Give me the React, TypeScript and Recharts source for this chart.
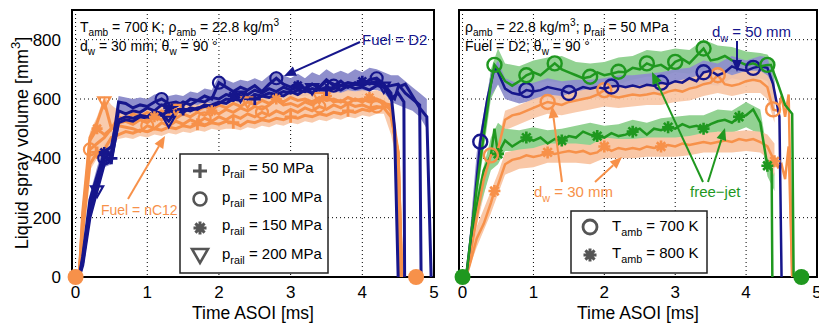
import React from 'react';
import { ComposedChart, Line, Area, XAxis, YAxis, CartesianGrid, ReferenceArea, Scatter } from 'recharts';

const FONT = '"Liberation Sans", Arial, Helvetica, sans-serif';
const NAVY = '#16168c';
const NAVY_BAND = '#8f8fcc';
const ORANGE = '#f7914a';
const ORANGE_BAND = '#f9c7a6';
const GREEN = '#1f981f';
const GREEN_BAND = '#92d292';
const GRAY = '#555555';

// ---------- axis ticks ----------
const xTicks = [0, 1, 2, 3, 4, 5];
const yTicks = [0, 200, 400, 600, 800];

// ---------- LEFT PANEL (fuel comparison) ----------
const tL = [0.05, 0.1, 0.2, 0.3, 0.4, 0.5, 0.6, 0.7, 0.8, 0.9, 1, 1.1, 1.2, 1.3, 1.4, 1.5, 1.6, 1.7, 1.8, 1.9, 2, 2.1, 2.2, 2.3, 2.4, 2.5, 2.6, 2.7, 2.8, 2.9, 3, 3.1, 3.2, 3.3, 3.4, 3.5, 3.6, 3.7, 3.8, 3.9, 4, 4.1, 4.2, 4.3];

// D2 (navy)
const d2p100 = [0, 60, 240, 330, 400, 420, 590, 585, 570, 580, 575, 590, 600, 585, 590, 580, 600, 595, 610, 600, 655, 640, 625, 640, 630, 645, 625, 650, 670, 650, 640, 655, 635, 650, 640, 665, 645, 660, 640, 655, 645, 665, 670, 650];
const d2p100TailT = [4.4, 4.45, 4.5];
const d2p100TailV = [620, 500, 0];
const d2p50 = [0, 50, 220, 310, 390, 400, 520, 530, 525, 540, 535, 550, 545, 560, 555, 565, 560, 570, 575, 580, 590, 585, 600, 595, 605, 600, 610, 605, 615, 610, 625, 615, 630, 620, 635, 630, 640, 630, 645, 635, 640, 630, 645, 640];
const d2p50TailT = [4.4, 4.5, 4.6, 4.7, 4.8, 4.82];
const d2p50TailV = [645, 650, 620, 600, 580, 0];
const d2p150 = [0, 70, 260, 340, 420, 440, 560, 550, 560, 555, 570, 560, 580, 570, 575, 590, 580, 595, 590, 605, 600, 615, 610, 620, 615, 630, 620, 635, 625, 640, 630, 645, 635, 650, 640, 660, 650, 645, 655, 650, 660, 650, 660, 640];
const d2p150TailT = [4.4, 4.5, 4.58, 4.59];
const d2p150TailV = [600, 620, 590, 0];
const d2p200 = [0, 40, 200, 290, 380, 390, 530, 540, 535, 545, 540, 560, 550, 525, 560, 555, 570, 565, 580, 575, 585, 600, 595, 610, 600, 615, 610, 620, 615, 625, 620, 630, 625, 635, 630, 640, 635, 645, 640, 650, 645, 655, 650, 640];
const d2p200TailT = [4.4, 4.45, 4.5, 4.6, 4.7, 4.8, 4.9, 4.96];
const d2p200TailV = [610, 600, 640, 650, 610, 570, 540, 0];

// nC12 (orange)
const c12p50 = [0, 150, 380, 420, 430, 470, 480, 490, 485, 495, 490, 500, 495, 505, 500, 510, 505, 515, 510, 520, 515, 525, 520, 510, 525, 520, 530, 525, 535, 530, 540, 535, 545, 540, 550, 545, 555, 550, 560, 555, 565, 560, 570, 575];
const c12p50TailT = [4.4, 4.5, 4.52];
const c12p50TailV = [570, 380, 0];
const c12p100 = [0, 200, 430, 450, 470, 500, 510, 505, 500, 490, 510, 500, 520, 510, 525, 515, 530, 520, 535, 525, 540, 530, 545, 535, 550, 540, 555, 545, 560, 550, 565, 555, 570, 560, 575, 565, 580, 570, 585, 575, 580, 570, 575, 570];
const c12p100TailT = [4.4, 4.5, 4.55];
const c12p100TailV = [540, 420, 0];
const c12p150 = [0, 180, 460, 500, 480, 500, 520, 525, 515, 530, 520, 540, 530, 545, 535, 550, 540, 555, 545, 560, 550, 565, 555, 570, 560, 575, 565, 580, 600, 580, 585, 575, 590, 580, 595, 610, 590, 595, 585, 600, 590, 605, 600, 590];
const c12p150TailT = [4.4, 4.5, 4.55];
const c12p150TailV = [560, 400, 0];
const c12p200 = [0, 220, 470, 520, 590, 500, 540, 530, 550, 540, 555, 545, 560, 550, 565, 555, 570, 560, 575, 565, 580, 570, 585, 575, 590, 580, 595, 585, 600, 590, 605, 595, 600, 590, 605, 595, 600, 590, 605, 595, 600, 590, 595, 585];
const c12p200TailT = [4.4, 4.5, 4.55];
const c12p200TailV = [580, 420, 0];

// bands
const d2BandTailT = [4.4, 4.5, 4.6, 4.7, 4.8, 4.9];
const d2BandLo = [0, 30, 190, 280, 370, 380, 510, 520, 515, 525, 525, 535, 530, 510, 540, 540, 550, 550, 560, 560, 570, 575, 580, 585, 585, 595, 595, 600, 600, 605, 605, 610, 610, 615, 615, 620, 620, 620, 625, 625, 625, 630, 630, 620, 590, 580, 570, 560, 540, 500];
const d2BandHi = [0, 90, 280, 370, 450, 470, 610, 605, 600, 605, 600, 615, 620, 610, 615, 610, 625, 620, 635, 630, 680, 665, 655, 665, 660, 670, 660, 680, 695, 680, 670, 685, 670, 690, 680, 700, 685, 695, 685, 700, 690, 705, 700, 690, 680, 680, 660, 640, 620, 600];
const c12BandTailT = [4.4, 4.5];
const c12BandLo = [0, 140, 360, 400, 410, 450, 465, 470, 465, 475, 470, 480, 475, 485, 480, 490, 485, 495, 490, 500, 495, 500, 500, 495, 505, 500, 510, 505, 515, 510, 520, 515, 525, 520, 530, 525, 535, 530, 540, 535, 545, 540, 550, 550, 480, 370];
const c12BandHi = [0, 240, 490, 540, 610, 580, 560, 555, 565, 560, 570, 560, 575, 570, 580, 575, 585, 580, 590, 585, 595, 590, 600, 595, 605, 600, 610, 605, 620, 610, 620, 615, 625, 615, 630, 625, 630, 620, 630, 625, 630, 625, 630, 620, 590, 440];

// marker positions (ms)
const d2p50Marks = [0.5, 1.5, 2.5, 3.5];
const d2p100Marks = [0.4, 1.2, 2, 2.8, 3.6, 4.2];
const d2p150Marks = [0.4, 1.3, 2.2, 3.1, 4];
const d2p200Marks = [0.3, 1.3, 2.3, 3.3, 4.3];
const c12p50Marks = [0.3, 1.7, 2.2, 3, 3.8];
const c12p100Marks = [0.2, 1, 1.8, 2.6, 3.4, 4.2];
const c12p150Marks = [0.3, 1.1, 1.9, 2.8, 3.5, 4.1];
const c12p200Marks = [0.4, 1.4, 2.4, 3.4];
const leftEndsT = [0, 4.75];
const leftEndsV = [0, 0];

// ---------- RIGHT PANEL (wall distance / temperature) ----------
const tR = [0.05, 0.1, 0.2, 0.3, 0.4, 0.45, 0.5, 0.6, 0.7, 0.8, 0.9, 1, 1.1, 1.2, 1.3, 1.4, 1.5, 1.6, 1.7, 1.8, 1.9, 2, 2.1, 2.2, 2.3, 2.4, 2.5, 2.6, 2.7, 2.8, 2.9, 3, 3.1, 3.2, 3.3, 3.4, 3.5, 3.6, 3.7, 3.8, 3.9, 4, 4.1, 4.2, 4.3];
const tRBlue = [0.05, 0.15, 0.25, 0.35, 0.45, 0.5, 0.6, 0.7, 0.8, 0.9, 1, 1.1, 1.2, 1.3, 1.4, 1.5, 1.6, 1.7, 1.8, 1.9, 2, 2.1, 2.2, 2.3, 2.4, 2.5, 2.6, 2.7, 2.8, 2.9, 3, 3.1, 3.2, 3.3, 3.4, 3.5, 3.6, 3.7, 3.8, 3.9, 4, 4.1, 4.2, 4.3];

const freeJet700 = [0, 100, 300, 480, 650, 715, 700, 660, 645, 660, 680, 690, 680, 700, 720, 700, 690, 680, 670, 675, 690, 680, 685, 692, 690, 705, 700, 720, 710, 715, 700, 725, 735, 720, 745, 770, 730, 735, 745, 730, 725, 715, 720, 710, 715];
const freeJet700TailT = [4.35, 4.45, 4.55, 4.65, 4.67];
const freeJet700TailV = [715, 650, 580, 550, 0];
const dw50T700 = [0, 200, 456, 600, 705, 690, 635, 620, 615, 630, 625, 630, 640, 635, 630, 620, 630, 640, 635, 640, 635, 642, 645, 640, 645, 640, 648, 645, 655, 650, 660, 655, 670, 660, 690, 695, 680, 690, 710, 700, 695, 705, 710, 705];
const dw50T700TailT = [4.38, 4.47, 4.5];
const dw50T700TailV = [650, 540, 0];
const dw30T700 = [0, 60, 200, 330, 410, 415, 430, 530, 545, 550, 560, 570, 580, 590, 585, 580, 590, 595, 600, 605, 615, 630, 610, 605, 610, 615, 612, 615, 620, 615, 625, 630, 625, 635, 640, 650, 655, 680, 650, 645, 650, 660, 665, 660, 640];
const dw30T700TailT = [4.38, 4.45, 4.5, 4.55, 4.6, 4.65];
const dw30T700TailV = [565, 560, 610, 540, 615, 0];
const freeJet800 = [0, 80, 240, 360, 410, 500, 415, 460, 440, 455, 470, 460, 470, 450, 465, 460, 475, 470, 490, 480, 475, 470, 485, 475, 480, 490, 500, 480, 500, 495, 505, 500, 515, 505, 510, 500, 515, 525, 530, 520, 540, 545, 565, 520, 375];
const freeJet800TailT = [4.36, 4.37];
const freeJet800TailV = [365, 0];
const dw30T800 = [0, 40, 130, 180, 250, 290, 310, 380, 395, 400, 410, 405, 410, 420, 415, 420, 425, 420, 425, 415, 420, 440, 425, 435, 430, 435, 430, 440, 435, 440, 445, 440, 450, 445, 450, 455, 450, 455, 460, 455, 465, 460, 465, 455, 440];
const dw30T800TailT = [4.4, 4.45, 4.5, 4.55, 4.6, 4.65];
const dw30T800TailV = [390, 370, 380, 330, 440, 0];

const tBR = [0.05, 0.2, 0.4, 0.5, 0.6, 0.8, 1, 1.2, 1.4, 1.6, 1.8, 2, 2.2, 2.4, 2.6, 2.8, 3, 3.2, 3.4, 3.6, 3.8, 4, 4.2, 4.3, 4.4];
const freeJet700Lo = [0, 260, 600, 650, 620, 625, 650, 660, 655, 640, 635, 645, 650, 665, 675, 675, 690, 685, 700, 700, 690, 680, 670, 660, 600];
const freeJet700Hi = [0, 340, 700, 770, 720, 710, 730, 740, 745, 725, 720, 725, 740, 745, 765, 760, 770, 765, 800, 780, 775, 760, 755, 750, 720];
const dw50T700Lo = [0, 340, 610, 650, 600, 585, 595, 605, 600, 600, 605, 600, 610, 615, 615, 620, 625, 630, 650, 645, 670, 660, 670, 660, 540];
const dw50T700Hi = [0, 420, 690, 730, 670, 650, 655, 670, 660, 665, 665, 670, 680, 680, 685, 690, 700, 705, 730, 720, 745, 730, 745, 740, 660];
const dw30T700Lo = [0, 170, 380, 400, 495, 515, 535, 550, 545, 555, 565, 575, 570, 575, 580, 580, 590, 595, 610, 620, 610, 620, 620, 600, 520];
const dw30T700Hi = [0, 230, 440, 460, 560, 580, 600, 615, 610, 625, 635, 650, 640, 645, 650, 650, 660, 670, 685, 700, 680, 695, 695, 680, 640];
const freeJet800Lo = [0, 200, 360, 380, 425, 425, 430, 425, 430, 440, 445, 440, 445, 455, 450, 460, 465, 470, 470, 490, 485, 505, 480, 340, 290];
const freeJet800Hi = [0, 280, 470, 520, 500, 495, 505, 495, 500, 510, 520, 510, 515, 530, 520, 535, 540, 545, 545, 565, 560, 590, 565, 420, 350];
const dw30T800Lo = [0, 100, 215, 280, 345, 365, 370, 385, 385, 385, 380, 400, 400, 400, 405, 405, 405, 410, 420, 420, 420, 425, 420, 400, 340];
const dw30T800Hi = [0, 170, 290, 350, 420, 430, 435, 450, 450, 450, 445, 470, 465, 465, 470, 470, 470, 475, 485, 490, 490, 495, 490, 480, 450];

const freeJet700Marks = [0.45, 0.9, 1.3, 1.8, 2.2, 2.6, 3, 3.4, 4.3];
const dw50T700Marks = [0.25, 0.9, 1.5, 2.1, 2.8, 3.4, 4.1];
const dw30T700Marks = [0.4, 1.2, 2, 3.6, 4.38];
const freeJet800Marks = [0.5, 0.9, 1.4, 1.9, 2.4, 2.9, 3.4, 3.9, 4.3];
const dw30T800Marks = [0.45, 1.2, 2, 2.8, 4.4];
const rightEndsT = [0, 4.78];
const rightEndsV = [0, 0];

// ---------- helpers ----------
const pts = (ts: number[], vs: number[], tt: number[] = [], tv: number[] = []) =>
  ts.concat(tt).map((t, i) => ({ t, v: vs.concat(tv)[i] }));
const rng = (ts: number[], lo: number[], hi: number[]) =>
  ts.map((t, i) => ({ t, r: [lo[i], hi[i]] }));

function markerShape(kind: string, cx: number, cy: number, s: number, color: string, sw: number) {
  if (kind === 'o') return <circle cx={cx} cy={cy} r={s} fill="none" stroke={color} strokeWidth={sw} />;
  if (kind === '+') return <path d={`M${cx - s},${cy}H${cx + s}M${cx},${cy - s}V${cy + s}`} stroke={color} strokeWidth={sw + 0.6} fill="none" />;
  if (kind === '*') {
    const d = s * 0.707;
    return (
      <path
        d={`M${cx - s},${cy}H${cx + s}M${cx},${cy - s}V${cy + s}M${cx - d},${cy - d}L${cx + d},${cy + d}M${cx - d},${cy + d}L${cx + d},${cy - d}`}
        stroke={color} strokeWidth={sw + 0.4} fill="none" />
    );
  }
  return <polygon points={`${cx - s},${cy - s * 0.75} ${cx + s},${cy - s * 0.75} ${cx},${cy + s}`} fill="none" stroke={color} strokeWidth={sw} />;
}

function makeDot(kind: string, color: string, marks: number[], s: number, sw: number) {
  return (props: any) => {
    const { cx, cy, payload, index } = props;
    if (cx == null || cy == null || !payload || marks.indexOf(payload.t) < 0) return <g key={`d${index}`} />;
    return <g key={`d${index}`}>{markerShape(kind, cx, cy, s, color, sw)}</g>;
  };
}

const tickStyle = { fontSize: 17, fill: '#000', fontFamily: FONT };

function Rich({ x, y, size, color, parts, anchor = 'start' }: any) {
  let shift = 0;
  const spans = parts.map((p: any, i: number) => {
    const [txt, kind] = p;
    const target = kind === 'sub' ? size * 0.32 : kind === 'sup' ? -size * 0.42 : 0;
    const dy = target - shift;
    shift = target;
    const fs = kind === 'n' ? size : size * 0.72;
    return <tspan key={i} dy={dy} fontSize={fs}>{txt}</tspan>;
  });
  return <text x={x} y={y} fill={color} fontSize={size} fontFamily={FONT} textAnchor={anchor}>{spans}</text>;
}

function Arrow({ x1, y1, x2, y2, color }: any) {
  const dx = x2 - x1, dy = y2 - y1;
  const L = Math.sqrt(dx * dx + dy * dy);
  const ux = dx / L, uy = dy / L;
  const hl = 12, hw = 5;
  const bx = x2 - ux * hl, by = y2 - uy * hl;
  return (
    <g>
      <line x1={x1} y1={y1} x2={bx} y2={by} stroke={color} strokeWidth={2} />
      <polygon points={`${x2},${y2} ${bx - uy * hw},${by + ux * hw} ${bx + uy * hw},${by - ux * hw}`} fill={color} />
    </g>
  );
}

function lineEl(key: string, data: any[], color: string, width: number, kind: string, marks: number[], s: number, sw: number) {
  return (
    <Line key={key} data={data} dataKey="v" type="linear" stroke={color} strokeWidth={width}
      dot={makeDot(kind, color, marks, s, sw)} activeDot={false} isAnimationActive={false} legendType="none" />
  );
}

function LeftPanel() {
  return (
    <ComposedChart width={440} height={326} margin={{ top: 10, right: 6, bottom: 0, left: 0 }}>
      <CartesianGrid stroke="#000" strokeDasharray="1 3" />
      <XAxis type="number" dataKey="t" domain={[-0.05, 5]} ticks={xTicks} interval={0} tick={tickStyle}
        tickLine={false} axisLine={false} tickSize={7} height={49} />
      <YAxis type="number" domain={[0, 900]} ticks={yTicks} interval={0} tick={tickStyle}
        tickLine={false} axisLine={false} tickSize={9} width={72} />
      <Area data={rng(tL.concat(d2BandTailT), d2BandLo, d2BandHi)} dataKey="r" type="linear" stroke="none" fill={NAVY_BAND} fillOpacity={1} isAnimationActive={false} />
      <Area data={rng(tL.concat(c12BandTailT), c12BandLo, c12BandHi)} dataKey="r" type="linear" stroke="none" fill={ORANGE_BAND} fillOpacity={0.92} isAnimationActive={false} />
      {lineEl('c50', pts(tL, c12p50, c12p50TailT, c12p50TailV), ORANGE, 3, '+', c12p50Marks, 6, 2.2)}
      {lineEl('c100', pts(tL, c12p100, c12p100TailT, c12p100TailV), ORANGE, 3, 'o', c12p100Marks, 6, 2.2)}
      {lineEl('c150', pts(tL, c12p150, c12p150TailT, c12p150TailV), ORANGE, 3, '*', c12p150Marks, 5.5, 2.2)}
      {lineEl('c200', pts(tL, c12p200, c12p200TailT, c12p200TailV), ORANGE, 3, 'v', c12p200Marks, 6, 2.2)}
      {lineEl('d50', pts(tL, d2p50, d2p50TailT, d2p50TailV), NAVY, 3, '+', d2p50Marks, 6, 2.2)}
      {lineEl('d100', pts(tL, d2p100, d2p100TailT, d2p100TailV), NAVY, 3, 'o', d2p100Marks, 6, 2.2)}
      {lineEl('d150', pts(tL, d2p150, d2p150TailT, d2p150TailV), NAVY, 3, '*', d2p150Marks, 5.5, 2.2)}
      {lineEl('d200', pts(tL, d2p200, d2p200TailT, d2p200TailV), NAVY, 3, 'v', d2p200Marks, 6, 2.2)}
      <Scatter data={pts(leftEndsT, leftEndsV)} dataKey="v" fill={ORANGE} isAnimationActive={false} legendType="none"
        shape={(p: any) => <circle cx={p.cx} cy={p.cy} r={8} fill={ORANGE} />} />
      <ReferenceArea x1={-0.05} x2={5} y1={0} y2={900} fill="none" stroke="#000" strokeWidth={2} ifOverflow="visible" />
    </ComposedChart>
  );
}

function RightPanel() {
  return (
    <ComposedChart width={379} height={326} margin={{ top: 10, right: 2, bottom: 0, left: 19 }}>
      <CartesianGrid stroke="#000" strokeDasharray="1 3" />
      <XAxis type="number" dataKey="t" domain={[-0.05, 5]} ticks={xTicks} interval={0} tick={tickStyle}
        tickLine={false} axisLine={false} tickSize={7} height={49} />
      <YAxis type="number" domain={[0, 900]} ticks={yTicks} interval={0} hide />
      <Area data={rng(tBR, freeJet700Lo, freeJet700Hi)} dataKey="r" type="linear" stroke="none" fill={GREEN_BAND} fillOpacity={1} isAnimationActive={false} />
      <Area data={rng(tBR, dw50T700Lo, dw50T700Hi)} dataKey="r" type="linear" stroke="none" fill={NAVY_BAND} fillOpacity={0.95} isAnimationActive={false} />
      <Area data={rng(tBR, dw30T700Lo, dw30T700Hi)} dataKey="r" type="linear" stroke="none" fill={ORANGE_BAND} fillOpacity={0.92} isAnimationActive={false} />
      <Area data={rng(tBR, freeJet800Lo, freeJet800Hi)} dataKey="r" type="linear" stroke="none" fill={GREEN_BAND} fillOpacity={1} isAnimationActive={false} />
      <Area data={rng(tBR, dw30T800Lo, dw30T800Hi)} dataKey="r" type="linear" stroke="none" fill={ORANGE_BAND} fillOpacity={1} isAnimationActive={false} />
      {lineEl('o800', pts(tR, dw30T800, dw30T800TailT, dw30T800TailV), ORANGE, 2.5, '*', dw30T800Marks, 6, 2.2)}
      {lineEl('g800', pts(tR, freeJet800, freeJet800TailT, freeJet800TailV), GREEN, 2.5, '*', freeJet800Marks, 6, 2.2)}
      {lineEl('o700', pts(tR, dw30T700, dw30T700TailT, dw30T700TailV), ORANGE, 2.5, 'o', dw30T700Marks, 7, 2.4)}
      {lineEl('b700', pts(tRBlue, dw50T700, dw50T700TailT, dw50T700TailV), NAVY, 2.5, 'o', dw50T700Marks, 7, 2.4)}
      {lineEl('g700', pts(tR, freeJet700, freeJet700TailT, freeJet700TailV), GREEN, 2.5, 'o', freeJet700Marks, 7, 2.4)}
      <Scatter data={pts(rightEndsT, rightEndsV)} dataKey="v" fill={GREEN} isAnimationActive={false} legendType="none"
        shape={(p: any) => <circle cx={p.cx} cy={p.cy} r={8} fill={GREEN} />} />
      <ReferenceArea x1={-0.05} x2={5} y1={0} y2={900} fill="none" stroke="#000" strokeWidth={2} ifOverflow="visible" />
    </ComposedChart>
  );
}

function Overlay() {
  const sub = (t: string) => [t, 'sub'];
  const n = (t: string) => [t, 'n'];
  const sup = (t: string) => [t, 'sup'];
  return (
    <svg width={819} height={326} style={{ position: 'absolute', left: 0, top: 0, pointerEvents: 'none' }}>
      {/* axis titles */}
      <text transform="translate(22,143) rotate(-90)" textAnchor="middle" dominantBaseline="central" fontSize={18} fontFamily={FONT} fill="#000">
        Liquid spray volume [mm<tspan dy={-7} fontSize={13}>3</tspan><tspan dy={7}>]</tspan>
      </text>
      <text x={253} y={319} textAnchor="middle" fontSize={17.5} fontFamily={FONT} fill="#000">Time ASOI [ms]</text>
      <text x={638} y={319} textAnchor="middle" fontSize={17.5} fontFamily={FONT} fill="#000">Time ASOI [ms]</text>

      {/* left annotations */}
      <Rich x={80} y={32} size={14} color="#000" parts={[n('T'), sub('amb'), n(' = 700 K; ρ'), sub('amb'), n(' = 22.8 kg/m'), sup('3')]} />
      <Rich x={80} y={51} size={14} color="#000" parts={[n('d'), sub('w'), n(' = 30 mm; θ'), sub('w'), n(' = 90 °')]} />
      <Rich x={362} y={45} size={15} color={NAVY} parts={[n('Fuel = D2')]} />
      <Arrow x1={360} y1={42} x2={284} y2={76} color={NAVY} />
      <Rich x={101} y={215} size={14} color={ORANGE} parts={[n('Fuel = nC12')]} />
      <Arrow x1={128} y1={199} x2={165} y2={136} color={ORANGE} />

      {/* left legend */}
      <rect x={180} y={154} width={148} height={119} fill="#fff" stroke="#222" strokeWidth={1.5} />
      {markerShape('+', 200, 171, 7, GRAY, 2.6)}
      {markerShape('o', 200, 199, 6.5, GRAY, 2.6)}
      {markerShape('*', 200, 228, 6.5, GRAY, 2.6)}
      {markerShape('v', 200, 255, 8, GRAY, 2.6)}
      <Rich x={222} y={173} size={15} color="#000" parts={[n('p'), sub('rail'), n(' = 50 MPa')]} />
      <Rich x={222} y={202} size={15} color="#000" parts={[n('p'), sub('rail'), n(' = 100 MPa')]} />
      <Rich x={222} y={230} size={15} color="#000" parts={[n('p'), sub('rail'), n(' = 150 MPa')]} />
      <Rich x={222} y={259} size={15} color="#000" parts={[n('p'), sub('rail'), n(' = 200 MPa')]} />

      {/* right annotations */}
      <Rich x={465} y={32} size={14} color="#000" parts={[n('ρ'), sub('amb'), n(' = 22.8 kg/m'), sup('3'), n('; p'), sub('rail'), n(' = 50 MPa')]} />
      <Rich x={465} y={51} size={14} color="#000" parts={[n('Fuel = D2; θ'), sub('w'), n(' = 90 °')]} />
      <Rich x={712} y={37} size={15} color={NAVY} parts={[n('d'), sub('w'), n(' = 50 mm')]} />
      <Arrow x1={737} y1={41} x2={737} y2={72} color={NAVY} />
      <Rich x={534} y={197} size={15} color={ORANGE} parts={[n('d'), sub('w'), n(' = 30 mm')]} />
      <Arrow x1={562} y1={182} x2={552} y2={106} color={ORANGE} />
      <Arrow x1={595} y1={182} x2={622} y2={157} color={ORANGE} />
      <Rich x={690} y={197} size={15} color={GREEN} parts={[n('free−jet')]} />
      <Arrow x1={703} y1={182} x2={652} y2={72} color={GREEN} />
      <Arrow x1={708} y1={182} x2={725} y2={128} color={GREEN} />

      {/* right legend */}
      <rect x={571} y={211} width={136} height={62} fill="#fff" stroke="#222" strokeWidth={1.5} />
      {markerShape('o', 590, 227, 7, GRAY, 2.8)}
      {markerShape('*', 590, 255, 6.5, GRAY, 2.6)}
      <Rich x={612} y={231} size={15} color="#000" parts={[n('T'), sub('amb'), n(' = 700 K')]} />
      <Rich x={612} y={258} size={15} color="#000" parts={[n('T'), sub('amb'), n(' = 800 K')]} />
    </svg>
  );
}

export default function App() {
  return (
    <div style={{ position: 'absolute', left: 0, top: 0, width: 819, height: 326, background: '#fff', fontFamily: FONT }}>
      <div style={{ position: 'absolute', left: 0, top: 0 }}>
        <LeftPanel />
      </div>
      <div style={{ position: 'absolute', left: 440, top: 0 }}>
        <RightPanel />
      </div>
      <Overlay />
    </div>
  );
}
